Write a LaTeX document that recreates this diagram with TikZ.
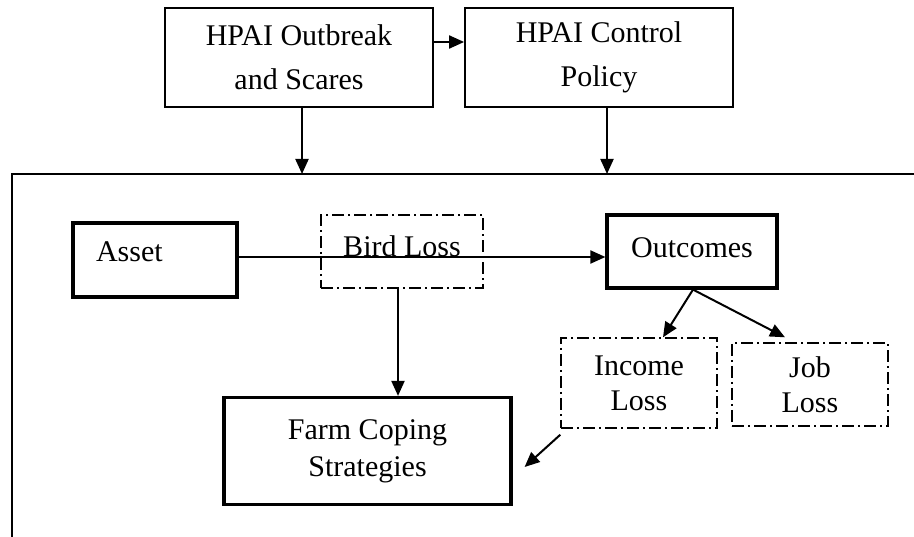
\documentclass[tikz,border=0pt]{standalone}
\usepackage{fontspec}
\setmainfont{Liberation Serif}
\usetikzlibrary{
	arrows.meta,  %箭头
	positioning,  %定位
	calc          %计算
}
\tikzset{
	every picture/.style={
		>={Triangle[length=15pt,width=13pt]},
		x=1pt,y=-1pt
}}
\tikzset{
	solidbox/.style={draw,line width=1.8pt,inner sep=0pt,align=center,
		font=\fontsize{30}{44}\selectfont},
	boldbox/.style={draw,line width=3.2pt,inner sep=0pt,align=center,
		font=\fontsize{30}{37}\selectfont},
	dashbox/.style={draw,line width=1.4pt,inner sep=0pt,align=center,
		dash pattern=on 12pt off 4pt on 2pt off 4pt,
		font=\fontsize{30}{35}\selectfont},
	link/.style={->,line width=2pt},
	frameline/.style={line width=1.6pt}
}
\begin{document}
\begin{tikzpicture}
\useasboundingbox (0,0) rectangle (914,537);

%上方两个框
\node[solidbox,minimum width=268pt,minimum height=99pt] (outbreak) at (299,57.5) {HPAI Outbreak\\and Scares};
\node[solidbox,minimum width=268pt,minimum height=99pt] (control) at (599,57.5) {HPAI Control\\Policy};
\draw[link] ([yshift=15.5pt]outbreak.east) -- ([yshift=15.5pt]control.west);

%大框(只露出上边和左边)
\coordinate (ftl) at (12,174);
\coordinate (ftr) at (914,174);
\coordinate (fbl) at (12,537);
\draw[frameline] (ftr) -- (ftl) -- (fbl);
\draw[link] ([xshift=3pt]outbreak.south) -- ([xshift=3pt]outbreak.south |- ftl);
\draw[link] ([xshift=8pt]control.south) -- ([xshift=8pt]control.south |- ftl);

%框内各节点
\node[boldbox,minimum width=164pt,minimum height=74pt,text width=118pt,align=left,text depth=16pt] (asset) at (155,260) {Asset};
\node[dashbox,minimum width=162pt,minimum height=73pt,text depth=10pt] (bird) at (402,251.5) {Bird Loss};
\node[boldbox,minimum width=170pt,minimum height=73pt,text depth=8pt] (outcome) at (692,251.5) {Outcomes};
\node[dashbox,minimum width=156pt,minimum height=90pt] (income) at (639,383) {Income\\Loss};
\node[dashbox,minimum width=156pt,minimum height=83pt] (job) at (810,384.5) {Job\\Loss};
\node[boldbox,minimum width=287pt,minimum height=107pt] (farm) at (367.5,451) {Farm Coping\\Strategies};

%连线
\draw[link] ([yshift=3pt]asset.east) -- ([yshift=3pt]asset.east -| outcome.west);
\draw[link] ([xshift=-4pt]bird.south) -- ([xshift=-4pt]bird.south |- farm.north);
\draw[link] ([xshift=1pt]outcome.south) -- ([xshift=24pt]income.north);
\draw[link] ([xshift=1pt]outcome.south) -- ([xshift=-25pt,yshift=5pt]job.north);
\draw[link] ([yshift=-6pt]income.south west) -- ([xshift=12pt,yshift=-16pt]farm.east);

\end{tikzpicture}
\end{document}
